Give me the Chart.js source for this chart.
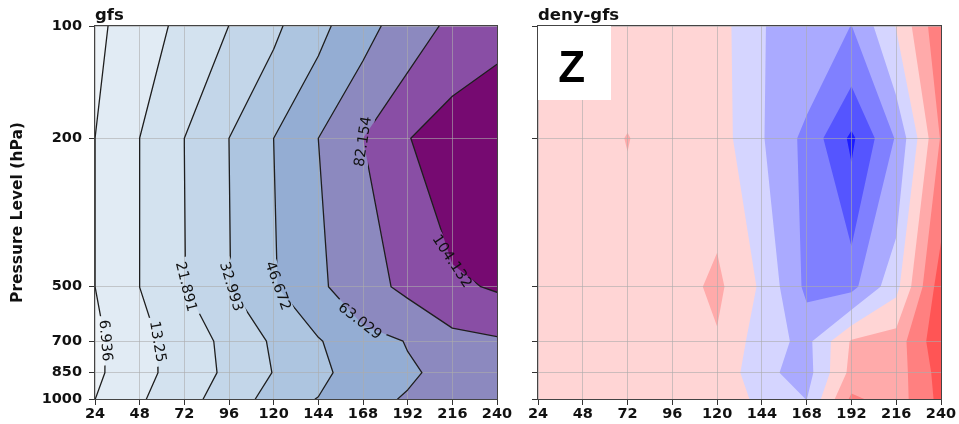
<!DOCTYPE html>
<html>
<head>
<meta charset="utf-8">
<title>Z error by lead time and pressure level</title>
<script src="https://cdn.jsdelivr.net/npm/chart.js@4.4.1/dist/chart.umd.min.js"></script>
<style>
  html, body { margin: 0; padding: 0; background: #ffffff; }
  #stage { position: relative; width: 959px; height: 424px; overflow: hidden; background: #ffffff; }
  #stage canvas { position: absolute; left: 0; top: 0; }
</style>
</head>
<body>
<div id="stage">
  <canvas id="gfsChart" width="959" height="424"></canvas>
  <canvas id="diffChart" width="959" height="424"></canvas>
</div>
<script>
// ---- grid of the verification: forecast lead (h) and pressure level (hPa)
const leadHours = [24, 48, 72, 96, 120, 144, 168, 192, 216, 240];
const pressureLevels = [100, 200, 500, 700, 850, 1000];

// ---- tick labels
const xTickValues = [24, 48, 72, 96, 120, 144, 168, 192, 216, 240];
const yTickValues = [100, 200, 500, 700, 850, 1000];

// ---- gfs: geopotential height error, one row per pressure level
const gfsZ100  = [5.55, 10.3, 14.9, 21.95, 30.5, 42.5, 57.0, 71.8, 86.5, 91.8];
const gfsZ200  = [6.93, 13.26, 21.90, 33.0, 46.68, 63.04, 82.16, 103.0, 119.0, 138.0];
const gfsZ500  = [6.93, 13.26, 21.6, 32.5, 45.5, 59.5, 75.0, 86.4, 100.0, 106.5];
const gfsZ700  = [5.5, 11.8, 15.5, 25.2, 34.5, 45.5, 57.2, 63.7, 75.5, 79.5];
const gfsZ850  = [5.5, 12.0, 15.05, 24.4, 33.35, 40.0, 60.2, 61.5, 66.3, 70.0];
const gfsZ1000 = [6.9, 12.3, 18.6, 26.4, 37.6, 47.35, 60.0, 63.9, 68.0, 72.0];

// contour levels of the gfs panel
const gfsLevels = [6.936, 13.25, 21.891, 32.993, 46.672, 63.029, 82.154, 104.132];

// ---- deny-gfs: difference of the geopotential height error
const diffZ100  = [1.24, 1.2, 1.16, 1.1, 0.92, -1.96, -2.4, -4.04, 0.1, 5.6];
const diffZ200  = [1.2, 1.24, 2.06, 1.12, 1.0, -1.84, -4.58, -8.4, -3.8, 4.2];
const diffZ500  = [1.0, 1.04, 1.0, 1.02, 2.46, -0.34, -4.48, -4.6, -0.6, 7.2];
const diffZ700  = [0.9, 0.96, 1.0, 1.0, 1.8, -1.0, -2.6, 2.2, 2.96, 7.5];
const diffZ850  = [0.9, 0.9, 0.96, 1.0, 1.6, -1.48, -2.8, 2.6, 3.0, 6.84];
const diffZ1000 = [0.9, 0.9, 0.92, 1.0, 1.6, -0.62, -2.04, 4.4, 3.0, 6.6];

// contour levels of the deny-gfs panel
const diffLevels = [-8, -6, -4, -2, 0, 2, 4, 6];

// ---- styling
const gfsBandColors  = ['#edf3f8', '#e1ebf4', '#d3e2ef', '#c3d6e9', '#adc5e0', '#94add3', '#8c89bf', '#894ea5', '#760a71'];
const diffBandColors = ['#1c1cff', '#5555ff', '#8080ff', '#aaaaff', '#d5d5ff', '#ffd5d5', '#ffaaaa', '#ff8080', '#ff5555'];

// where the inline contour labels sit (lead h, pressure hPa), like clabel(manual=...)
const gfsLabelSpots = [
  { level: 6.936,   lead: 30.2,  hpa: 696 },
  { level: 13.25,   lead: 57.0,  hpa: 702 },
  { level: 21.891,  lead: 72.1,  hpa: 502 },
  { level: 32.993,  lead: 96.7,  hpa: 500 },
  { level: 46.672,  lead: 122.8, hpa: 498 },
  { level: 63.029,  lead: 168.0, hpa: 608 },
  { level: 82.154,  lead: 166.2, hpa: 205 },
  { level: 104.132, lead: 218.1, hpa: 424 }
];

const FONT = '"DejaVu Sans", "Liberation Sans", sans-serif';

const gfsGrid  = [gfsZ100, gfsZ200, gfsZ500, gfsZ700, gfsZ850, gfsZ1000];
const diffGrid = [diffZ100, diffZ200, diffZ500, diffZ700, diffZ850, diffZ1000];

// ---- marching squares helpers (data space)
function cellCorners(grid, i, j) {
  return [
    { x: leadHours[j],     y: pressureLevels[i],     v: grid[i][j] },
    { x: leadHours[j + 1], y: pressureLevels[i],     v: grid[i][j + 1] },
    { x: leadHours[j + 1], y: pressureLevels[i + 1], v: grid[i + 1][j + 1] },
    { x: leadHours[j],     y: pressureLevels[i + 1], v: grid[i + 1][j] }
  ];
}

// keep the part of a cell polygon where value >= level
function clipAbove(poly, level) {
  const out = [];
  for (let n = 0; n < poly.length; n++) {
    const a = poly[n], b = poly[(n + 1) % poly.length];
    const ina = a.v >= level, inb = b.v >= level;
    if (ina) out.push(a);
    if (ina !== inb) {
      const f = (level - a.v) / (b.v - a.v);
      out.push({ x: a.x + f * (b.x - a.x), y: a.y + f * (b.y - a.y), v: level });
    }
  }
  return out;
}

function contourSegments(grid, level) {
  const segs = [];
  for (let i = 0; i < pressureLevels.length - 1; i++) {
    for (let j = 0; j < leadHours.length - 1; j++) {
      const c = cellCorners(grid, i, j);
      const pts = [];
      for (let e = 0; e < 4; e++) {
        const a = c[e], b = c[(e + 1) % 4];
        if ((a.v >= level) !== (b.v >= level)) {
          const f = (level - a.v) / (b.v - a.v);
          pts.push({ x: a.x + f * (b.x - a.x), y: a.y + f * (b.y - a.y) });
        } else {
          pts.push(null);
        }
      }
      const hits = pts.filter(Boolean);
      if (hits.length === 2) {
        segs.push([hits[0], hits[1]]);
      } else if (hits.length === 4) {
        const centre = (c[0].v + c[1].v + c[2].v + c[3].v) / 4;
        if ((centre >= level) === (c[0].v >= level)) {
          segs.push([pts[0], pts[1]], [pts[2], pts[3]]);
        } else {
          segs.push([pts[3], pts[0]], [pts[1], pts[2]]);
        }
      }
    }
  }
  return segs;
}

function chainSegments(segs) {
  const key = q => q.x.toFixed(6) + '|' + q.y.toFixed(6);
  const byKey = new Map();
  segs.forEach((s, idx) => s.forEach(q => {
    const k = key(q);
    if (!byKey.has(k)) byKey.set(k, []);
    byKey.get(k).push(idx);
  }));
  const used = new Array(segs.length).fill(false);
  const lines = [];
  for (let s0 = 0; s0 < segs.length; s0++) {
    if (used[s0]) continue;
    used[s0] = true;
    const line = [segs[s0][0], segs[s0][1]];
    for (const atEnd of [true, false]) {
      let grow = true;
      while (grow) {
        grow = false;
        const tip = atEnd ? line[line.length - 1] : line[0];
        const tk = key(tip);
        for (const idx of byKey.get(tk)) {
          if (used[idx]) continue;
          used[idx] = true;
          const s = segs[idx];
          const other = key(s[0]) === tk ? s[1] : s[0];
          if (atEnd) line.push(other); else line.unshift(other);
          grow = true;
          break;
        }
      }
    }
    lines.push(line);
  }
  return lines;
}

// contour polylines of the gfs panel, per level
const gfsLines = gfsLevels.map(lv => chainSegments(contourSegments(gfsGrid, lv)));

// ---- plugins
function bandFillPlugin(grid, levels, colors) {
  return {
    id: 'bandFill',
    beforeDraw(chart) {
      const { ctx, chartArea: area, scales } = chart;
      const xs = scales.x, ys = scales.y;
      ctx.save();
      ctx.beginPath();
      ctx.rect(area.left, area.top, area.right - area.left, area.bottom - area.top);
      ctx.clip();
      for (let k = 0; k <= levels.length; k++) {
        ctx.beginPath();
        for (let i = 0; i < pressureLevels.length - 1; i++) {
          for (let j = 0; j < leadHours.length - 1; j++) {
            let poly = cellCorners(grid, i, j);
            if (k > 0) poly = clipAbove(poly, levels[k - 1]);
            if (poly.length < 3) continue;
            poly.forEach((q, n) => {
              const px = xs.getPixelForValue(q.x), py = ys.getPixelForValue(q.y);
              if (n === 0) ctx.moveTo(px, py); else ctx.lineTo(px, py);
            });
            ctx.closePath();
          }
        }
        ctx.fillStyle = colors[k];
        ctx.fill('nonzero');
      }
      ctx.restore();
    }
  };
}

function contourLabelPlugin(linesByLevel, levels, spots) {
  let placed = [];
  const labelFont = '14.5px ' + FONT;
  return {
    id: 'contourLabels',
    beforeDatasetsDraw(chart) {
      const { ctx, scales } = chart;
      const xs = scales.x, ys = scales.y;
      ctx.save();
      ctx.font = labelFont;
      placed = spots.map(sp => {
        const lines = linesByLevel[levels.indexOf(sp.level)];
        const ax = xs.getPixelForValue(sp.lead), ay = ys.getPixelForValue(sp.hpa);
        let best = null;
        lines.forEach(line => {
          const pix = line.map(q => ({ x: xs.getPixelForValue(q.x), y: ys.getPixelForValue(q.y) }));
          const cum = [0];
          for (let n = 1; n < pix.length; n++) cum.push(cum[n - 1] + Math.hypot(pix[n].x - pix[n - 1].x, pix[n].y - pix[n - 1].y));
          for (let n = 0; n < pix.length - 1; n++) {
            const A = pix[n], B = pix[n + 1];
            const dx = B.x - A.x, dy = B.y - A.y, L2 = dx * dx + dy * dy;
            if (L2 < 1e-9) continue;
            let u = ((ax - A.x) * dx + (ay - A.y) * dy) / L2;
            u = Math.max(0, Math.min(1, u));
            const qx = A.x + u * dx, qy = A.y + u * dy;
            const d = (qx - ax) ** 2 + (qy - ay) ** 2;
            if (!best || d < best.d) best = { d, x: qx, y: qy, s: cum[n] + u * Math.sqrt(L2), pix, cum };
          }
        });
        const text = String(sp.level);
        const w = ctx.measureText(text).width;
        const at = s => {
          const { pix, cum } = best;
          s = Math.max(0, Math.min(cum[cum.length - 1], s));
          for (let n = 0; n < pix.length - 1; n++) {
            if (s <= cum[n + 1] || n === pix.length - 2) {
              const seg = cum[n + 1] - cum[n] || 1;
              const f = (s - cum[n]) / seg;
              return { x: pix[n].x + f * (pix[n + 1].x - pix[n].x), y: pix[n].y + f * (pix[n + 1].y - pix[n].y) };
            }
          }
          return pix[pix.length - 1];
        };
        const P1 = at(best.s - w / 2), P2 = at(best.s + w / 2);
        let ang = Math.atan2(P2.y - P1.y, P2.x - P1.x);
        if (ang > Math.PI / 2) ang -= Math.PI;
        if (ang < -Math.PI / 2) ang += Math.PI;
        return { x: best.x, y: best.y, ang, w, text };
      });
      ctx.restore();
      // gap in the lines under each label
      ctx.save();
      ctx.beginPath();
      ctx.rect(0, 0, chart.width, chart.height);
      placed.forEach(pl => {
        const hw = pl.w / 2 + 4, hh = 8;
        const c = Math.cos(pl.ang), s = Math.sin(pl.ang);
        const corners = [[-hw, -hh], [hw, -hh], [hw, hh], [-hw, hh]].map(([u, v]) => [pl.x + u * c - v * s, pl.y + u * s + v * c]);
        ctx.moveTo(corners[0][0], corners[0][1]);
        for (let n = 1; n < 4; n++) ctx.lineTo(corners[n][0], corners[n][1]);
        ctx.closePath();
      });
      ctx.clip('evenodd');
    },
    afterDatasetsDraw(chart) {
      const { ctx } = chart;
      ctx.restore();
      ctx.save();
      ctx.font = labelFont;
      ctx.fillStyle = '#111111';
      ctx.textAlign = 'center';
      ctx.textBaseline = 'middle';
      placed.forEach(pl => {
        ctx.save();
        ctx.translate(pl.x, pl.y);
        ctx.rotate(pl.ang);
        ctx.fillText(pl.text, 0, 0);
        ctx.restore();
      });
      ctx.restore();
    }
  };
}

function decorPlugin(title, withYLabel, withTag) {
  return {
    id: 'decor',
    afterDraw(chart) {
      const { ctx, chartArea: a } = chart;
      const w = a.right - a.left, h = a.bottom - a.top;
      ctx.save();
      if (withTag) {
        const bw = Math.round(w * 0.18), bh = Math.round(h * 0.198);
        ctx.fillStyle = '#ffffff';
        ctx.fillRect(a.left, a.top, bw, bh);
        ctx.fillStyle = '#000000';
        ctx.font = 'bold 44px "Liberation Sans", Arial, sans-serif';
        ctx.textAlign = 'center';
        ctx.textBaseline = 'alphabetic';
        ctx.fillText('Z', a.left + bw * 0.46, a.top + bh * 0.76);
      }
      // frame just outside the plotting area
      ctx.strokeStyle = '#444444';
      ctx.lineWidth = 1;
      ctx.strokeRect(a.left - 0.5, a.top - 0.5, w + 1, h + 1);
      // title
      ctx.fillStyle = '#111111';
      ctx.font = 'bold 16.5px ' + FONT;
      ctx.textAlign = 'left';
      ctx.textBaseline = 'alphabetic';
      ctx.fillText(title, a.left, a.top - 6);
      if (withYLabel) {
        ctx.translate(18, (a.top + a.bottom) / 2);
        ctx.rotate(-Math.PI / 2);
        ctx.textAlign = 'center';
        ctx.textBaseline = 'middle';
        ctx.font = 'bold 15.5px ' + FONT;
        ctx.fillText('Pressure Level (hPa)', 0, 0);
      }
      ctx.restore();
    }
  };
}

function scalesConfig(showYLabels, yWidth) {
  const gridStyle = {
    color: 'rgba(172,172,172,0.6)',
    lineWidth: 1,
    drawTicks: true,
    tickLength: 6,
    tickColor: '#333333',
    tickWidth: 1
  };
  return {
    x: {
      type: 'linear',
      min: 24,
      max: 240,
      grid: gridStyle,
      border: { display: false },
      afterBuildTicks: s => { s.ticks = xTickValues.map(v => ({ value: v })); },
      afterFit: s => { s.height = 25; s.paddingLeft = 0; s.paddingRight = 0; },
      ticks: {
        autoSkip: false,
        maxRotation: 0,
        minRotation: 0,
        padding: 1,
        color: '#111111',
        font: { family: FONT, size: 14.5, weight: 'bold' },
        callback: v => String(v)
      }
    },
    y: {
      type: 'logarithmic',
      reverse: true,
      min: 100,
      max: 1000,
      grid: gridStyle,
      border: { display: false },
      afterBuildTicks: s => { s.ticks = yTickValues.map(v => ({ value: v })); },
      afterFit: s => { s.width = yWidth; s.paddingTop = 0; s.paddingBottom = 0; },
      ticks: {
        display: showYLabels,
        autoSkip: false,
        padding: 7,
        color: '#111111',
        font: { family: FONT, size: 14.5, weight: 'bold' },
        callback: v => String(v)
      }
    }
  };
}

// ---- left panel: gfs
const gfsDatasets = [];
gfsLines.forEach(lines => lines.forEach(line => {
  gfsDatasets.push({
    data: line.map(q => ({ x: q.x, y: q.y })),
    showLine: true,
    borderColor: '#1e1e1e',
    borderWidth: 1.3,
    pointRadius: 0,
    pointHoverRadius: 0,
    fill: false,
    tension: 0,
    borderCapStyle: 'round',
    borderJoinStyle: 'round'
  });
}));

new Chart(document.getElementById('gfsChart'), {
  type: 'scatter',
  data: { datasets: gfsDatasets },
  options: {
    responsive: false,
    animation: false,
    events: [],
    layout: { padding: { left: 0, top: 26, right: 959 - 497, bottom: 0 } },
    plugins: { legend: { display: false }, tooltip: { enabled: false }, title: { display: false } },
    scales: scalesConfig(true, 95)
  },
  plugins: [
    bandFillPlugin(gfsGrid, gfsLevels, gfsBandColors),
    contourLabelPlugin(gfsLines, gfsLevels, gfsLabelSpots),
    decorPlugin('gfs', true, false)
  ]
});

// ---- right panel: deny-gfs
new Chart(document.getElementById('diffChart'), {
  type: 'scatter',
  data: { datasets: [] },
  options: {
    responsive: false,
    animation: false,
    events: [],
    layout: { padding: { left: 538 - 10, top: 26, right: 959 - 941, bottom: 0 } },
    plugins: { legend: { display: false }, tooltip: { enabled: false }, title: { display: false } },
    scales: scalesConfig(false, 10)
  },
  plugins: [
    bandFillPlugin(diffGrid, diffLevels, diffBandColors),
    decorPlugin('deny-gfs', false, true)
  ]
});
</script>
</body>
</html>
